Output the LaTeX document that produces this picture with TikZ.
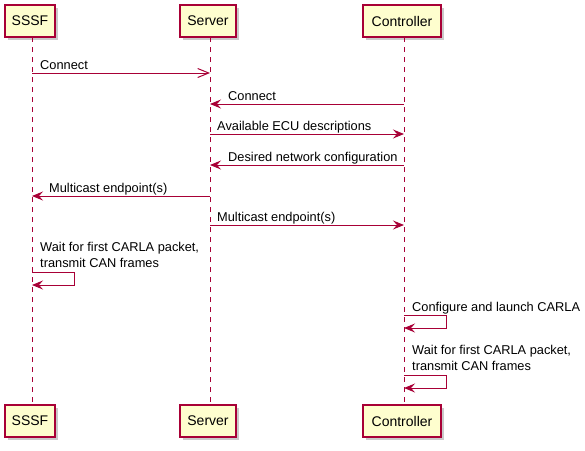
\documentclass[tikz,border=0pt]{standalone}
\usepackage{fontspec}
\setmainfont{Liberation Sans}
\usetikzlibrary{arrows.meta,shadows}
\definecolor{pred}{HTML}{A80036}
\definecolor{pfill}{HTML}{FEFECE}
\tikzset{
  partbox/.style={draw=pred, line width=1.3pt, fill=pfill, minimum height=32pt, inner sep=0pt,
    font=\fontsize{14}{16}\selectfont, drop shadow={shadow xshift=3pt, shadow yshift=-3pt, opacity=0.35, fill=black!60}},
  lifeline/.style={draw=pred, line width=1pt, dash pattern=on 5pt off 5pt},
  msg/.style={draw=pred, line width=1pt, -{Stealth[length=11pt,width=9pt,inset=4pt,fill=pred]}},
  amsg/.style={draw=pred, line width=1pt, -{Straight Barb[length=11pt,width=9pt]}},
  lbl/.style={anchor=base west, inner sep=0pt, font=\fontsize{12.8}{16}\selectfont, text=black, align=left},
}
\begin{document}
\begin{tikzpicture}[x=1pt,y=-1pt]
\useasboundingbox (0,0) rectangle (585,450);
% participant boxes
\node[partbox, minimum width=50pt] (sT) at (30,21) {SSSF};
\node[partbox, minimum width=56pt] (vT) at (208,21) {Server};
\node[partbox, minimum width=78pt] (cT) at (402,21) {Controller};
\node[partbox, minimum width=50pt] (sB) at (30,421) {SSSF};
\node[partbox, minimum width=56pt] (vB) at (208,421) {Server};
\node[partbox, minimum width=78pt] (cB) at (402,421) {Controller};
% lifelines
\coordinate (sL1) at (32,37); \coordinate (sL2) at (32,405);
\coordinate (vL1) at (210,37); \coordinate (vL2) at (210,405);
\coordinate (cL1) at (404,37); \coordinate (cL2) at (404,405);
\draw[lifeline] (sL1) -- (sL2);
\draw[lifeline] (vL1) -- (vL2);
\draw[lifeline] (cL1) -- (cL2);
% message points
\coordinate (s1) at (32,73);  \coordinate (v1) at (210,73);
\coordinate (c2) at (404,104); \coordinate (v2) at (210,104);
\coordinate (v3) at (210,134); \coordinate (c3) at (404,134);
\coordinate (c4) at (404,165); \coordinate (v4) at (210,165);
\coordinate (v5) at (210,196); \coordinate (s5) at (32,196);
\coordinate (v6) at (210,225); \coordinate (c6) at (404,225);
\coordinate (s7a) at (32,272); \coordinate (s7b) at (32,285);
\coordinate (c8a) at (404,315); \coordinate (c8b) at (404,328);
\coordinate (c9a) at (404,375); \coordinate (c9b) at (404,388);
% messages
\draw[amsg] (s1) -- (v1);
\node[lbl] (t1) at (40,69) {Connect};
\draw[msg] (c2) -- (v2);
\node[lbl] (t2) at (228,100) {Connect};
\draw[msg] (v3) -- (c3);
\node[lbl] (t3) at (217,130) {Available ECU descriptions};
\draw[msg] (c4) -- (v4);
\node[lbl] (t4) at (228,161) {Desired network configuration};
\draw[msg] (v5) -- (s5);
\node[lbl] (t5) at (49,192) {Multicast endpoint(s)};
\draw[msg] (v6) -- (c6);
\node[lbl] (t6) at (217,221) {Multicast endpoint(s)};
\draw[msg] (s7a) -- ++(42,0) |- (s7b);
\node[lbl] (t7) at (40,267) {Wait for first CARLA packet,\\transmit CAN frames};
\draw[msg] (c8a) -- ++(42,0) |- (c8b);
\node[lbl] (t8) at (412,311) {Configure and launch CARLA};
\draw[msg] (c9a) -- ++(42,0) |- (c9b);
\node[lbl] (t9) at (412,370) {Wait for first CARLA packet,\\transmit CAN frames};
\end{tikzpicture}
\end{document}
